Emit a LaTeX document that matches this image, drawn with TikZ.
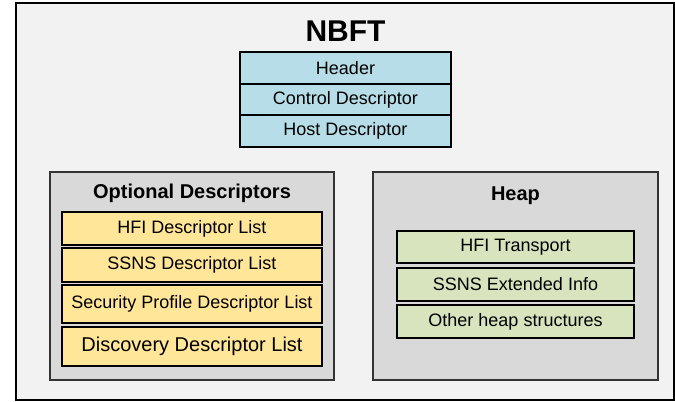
\documentclass[tikz,border=0pt]{standalone}
\usepackage{fontspec}
\setmainfont{Liberation Sans}
\definecolor{NBFTblue}{HTML}{B7DEE8}
\definecolor{OPTyellow}{HTML}{FFE699}
\definecolor{HEAPgreen}{HTML}{D7E4BD}
\definecolor{PANELgray}{HTML}{D9D9D9}
\definecolor{BGgray}{HTML}{F2F2F2}
\usetikzlibrary{positioning}
\newcommand{\cellfont}{\fontsize{13.5}{16}\selectfont}

\begin{document}
\begin{tikzpicture}[x=0.75pt,y=-0.75pt,
  every node/.style={font=\cellfont},
  cellbox/.style={draw=black,line width=1.5pt},
  panelbox/.style={draw=black!80,line width=1.2pt,fill=PANELgray},
  paneltitle/.style={font=\fontsize{15}{18}\selectfont\bfseries,anchor=base}]
  \useasboundingbox (0,0) rectangle (675,401);
  \draw[line width=1.5pt,fill=BGgray] (16,3) rectangle (674,400);
  \node[font=\fontsize{22.5}{26}\selectfont\bfseries] (nbft) at (345.5,31) {NBFT};
  \foreach \y/\h/\name/\txt in {52/84/hdr/Header,84/115/ctl/Control Descriptor,115/147/host/Host Descriptor}
    \draw[cellbox,fill=NBFTblue] (240,\y) rectangle (451,\h) node[midway] (\name) {\txt};
  % optional descriptors
  \draw[panelbox] (50,172) rectangle (334,380);
  \node[paneltitle] (opt) at (192,198) {Optional Descriptors};
  \foreach \y/\h/\name/\txt in {212/245/hfi/HFI Descriptor List,248/282/ssns/SSNS Descriptor List,285/323/sec/Security Profile Descriptor List}
    \draw[cellbox,fill=OPTyellow] (62,\y) rectangle (322,\h) node[midway] (\name) {\txt};
  \draw[cellbox,fill=OPTyellow] (62,327) rectangle (322,366)
    node[midway,font=\fontsize{15}{18}\selectfont] (disc) {Discovery Descriptor List};
  % heap
  \draw[panelbox] (373,172) rectangle (658,380);
  \node[paneltitle] (heap) at (515.5,200) {Heap};
  \foreach \y/\h/\name/\txt in {231/263/hfit/HFI Transport,268/301/ssnsx/SSNS Extended Info,305/338/other/Other heap structures}
    \draw[cellbox,fill=HEAPgreen] (397,\y) rectangle (634,\h) node[midway] (\name) {\txt};
\end{tikzpicture}
\end{document}
